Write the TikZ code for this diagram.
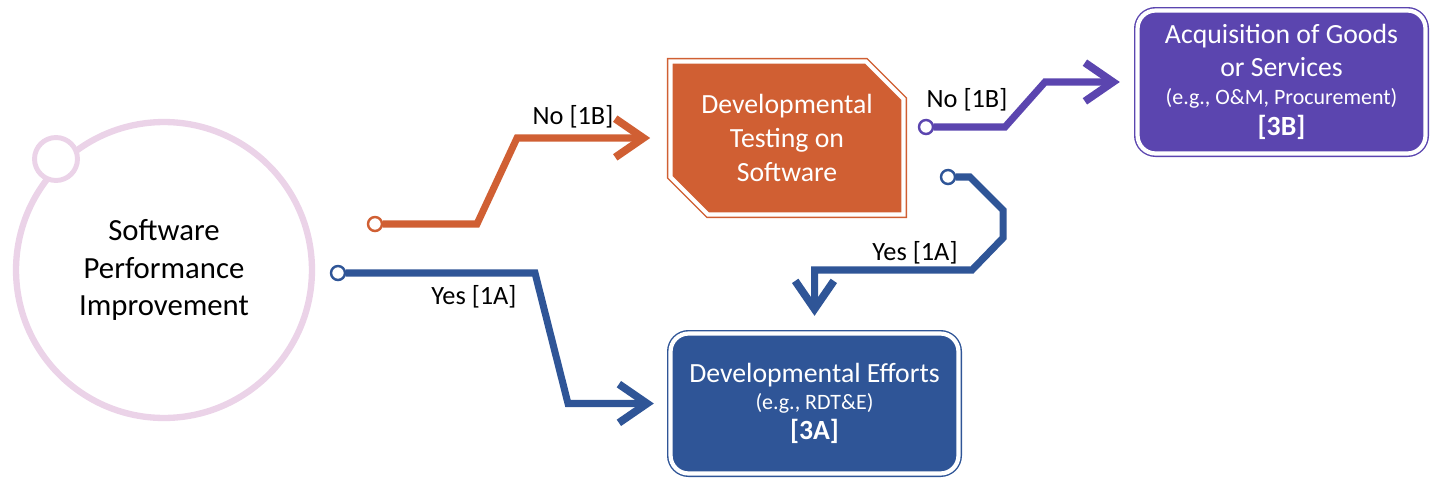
\documentclass[tikz,border=0pt]{standalone}
\usepackage{fontspec}
\setmainfont{Carlito}
\usepackage{tikz}
\usetikzlibrary{shapes,arrows.meta,positioning,calc}

\definecolor{pinkring}{RGB}{235,211,232}
\definecolor{orangefill}{RGB}{208,95,51}
\definecolor{purplefill}{RGB}{91,69,175}
\definecolor{bluefill}{RGB}{47,85,151}

\begin{document}
\begin{tikzpicture}[x=0.02cm, y=-0.02cm,
    ring/.style={circle, draw=pinkring, line width=3.6pt, minimum size=5.92cm, inner sep=0pt, outer sep=0pt, align=center, font=\fontsize{17.5}{21.3}\selectfont},
    ringdot/.style={circle, draw=pinkring, fill=white, line width=2.8pt, minimum size=0.86cm, inner sep=0pt},
    port/.style={circle, draw=#1, fill=white, line width=1.4pt, minimum size=0.28cm, inner sep=0pt},
    flow/.style={draw=#1, line width=4pt, -{Straight Barb[length=16pt, width=22pt, line width=4.4pt]}},
    outcome/.style={rectangle, rounded corners=0.36cm, draw=#1, fill=#1, double=white, double distance=2.4pt, line width=0.8pt, minimum width=5.76cm, text=white, align=center, font=\fontsize{15.8}{18.7}\selectfont},
    chamfer/.style={draw=orangefill, fill=orangefill, double=white, double distance=2.4pt, line width=0.8pt},
    tag/.style={font=\fontsize{15}{18}\selectfont}
]
    \useasboundingbox (0,0) rectangle (1435,480);

    % Start circle
    \node[ring] (sp) at (164,270) {Software\\Performance\\Improvement};
    \node[ringdot] (sd) at (56,159) {};

    % Developmental testing box
    \filldraw[chamfer] (670.5,61.5) -- (866,61.5) -- (903.5,99) -- (903.5,214.5) -- (708,214.5) -- (670.5,177) -- cycle;
    \node[text=white, align=center, minimum width=4.66cm, minimum height=3.06cm, font=\fontsize{15.8}{19.3}\selectfont] (tb) at (787,138) {Developmental\\Testing on\\Software};

    % Outcome boxes
    \node[outcome=purplefill, minimum height=2.86cm] (aq) at (1281.5,82) {Acquisition of Goods\\or Services\\[-2.8pt]{\fontsize{12.5}{15}\selectfont (e.g., O\&M, Procurement)}\\[-0.5pt]\textbf{[3B]}};
    \node[outcome=bluefill, minimum height=2.8cm] (ea) at (814.5,403.5) {Developmental Efforts\\[-3.4pt]{\fontsize{12.5}{15}\selectfont (e.g., RDT\&E)}\\[-1.5pt]\textbf{[3A]}};

    % Ports
    \node[port=orangefill] (no1) at (375,224) {};
    \node[port=bluefill] (yes1) at (338,273) {};
    \node[port=purplefill] (no2) at (926,127) {};
    \node[port=bluefill] (yes2) at (948,177) {};

    % Paths
    \draw[flow=orangefill, shorten >=0.4cm] (no1) -- (477,224) -- (517,138) -- (tb.west);
    \draw[flow=bluefill, shorten >=0.32cm] (yes1) -- (535,273) -- (568,403.5) -- (ea.west);
    \draw[flow=purplefill, shorten >=0.34cm] (no2) -- (1005,127) -- (1045,82) -- (aq.west);
    \draw[flow=bluefill, shorten >=0.34cm] (yes2) -- (970,177) -- (1003,210) -- (1003,238) -- (972,270) -- (814.5,270) -- (ea.north);

    % Labels
    \node[tag] (l1) at (573,117) {No [1B]};
    \node[tag] (l2) at (474,297) {Yes [1A]};
    \node[tag] (l3) at (967,100) {No [1B]};
    \node[tag] (l4) at (915,253) {Yes [1A]};
\end{tikzpicture}
\end{document}
